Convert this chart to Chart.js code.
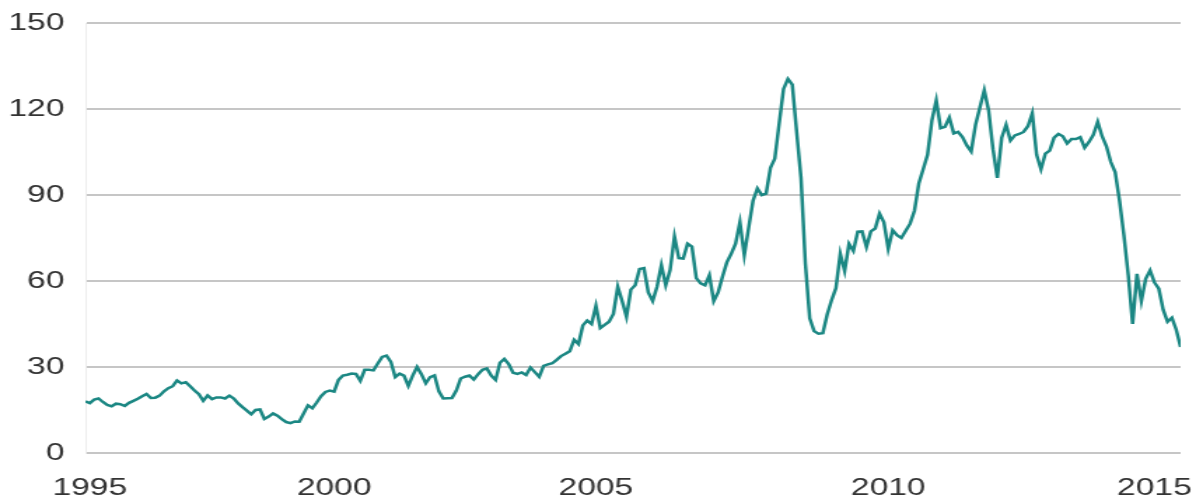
<!DOCTYPE html>
<html><head><meta charset="utf-8">
<script src="https://cdn.jsdelivr.net/npm/chart.js@4.4.1/dist/chart.umd.min.js"></script>
<style>
html,body{margin:0;padding:0;background:#fff;overflow:hidden;}
</style></head><body>
<canvas id="c" width="854" height="499" style="display:block;width:1196px;height:499px;"></canvas>
<script>
// Monthly values, Jan 1995 .. Dec 2015
const p1995 = [18.0, 17.4, 18.6, 19.0, 17.8, 16.8, 16.3, 17.2, 17.0, 16.4, 17.5, 18.2];
const p1996 = [18.9, 19.8, 20.6, 19.2, 19.3, 20.0, 21.5, 22.6, 23.3, 25.3, 24.3, 24.7];
const p1997 = [23.3, 21.8, 20.5, 18.2, 20.1, 18.8, 19.4, 19.4, 19.0, 20.0, 19.0, 17.3];
const p1998 = [16.0, 14.8, 13.5, 15.0, 15.2, 11.9, 12.7, 13.8, 13.0, 11.8, 10.8, 10.4];
const p1999 = [11.0, 10.9, 13.8, 16.6, 15.6, 17.6, 19.8, 21.3, 21.8, 21.4, 25.5, 27.0];
const p2000 = [27.3, 27.7, 27.6, 25.2, 29.0, 29.0, 28.8, 31.2, 33.5, 34.0, 31.8, 26.5];
const p2001 = [27.7, 27.0, 23.4, 27.0, 30.0, 27.5, 24.3, 26.5, 27.1, 21.5, 19.0, 19.1];
const p2002 = [19.2, 21.8, 26.0, 26.6, 27.0, 25.6, 27.5, 29.0, 29.5, 27.0, 25.5, 31.5];
const p2003 = [32.8, 31.0, 28.0, 27.6, 28.1, 27.2, 29.8, 28.2, 26.6, 30.4, 30.9, 31.3];
const p2004 = [32.5, 33.8, 34.6, 35.5, 39.5, 38.0, 44.5, 46.2, 45.0, 51.3, 43.6, 44.7];
const p2005 = [45.8, 48.5, 58.0, 53.0, 47.5, 57.0, 58.5, 64.2, 64.5, 56.0, 53.0, 58.0];
const p2006 = [65.5, 58.5, 63.8, 75.5, 68.0, 67.8, 73.0, 72.0, 61.0, 59.2, 58.5, 62.0];
const p2007 = [53.0, 56.0, 61.5, 66.5, 69.5, 73.0, 80.5, 69.0, 78.5, 88.0, 92.3, 90.0];
const p2008 = [90.5, 99.5, 102.7, 115.0, 127.0, 130.5, 128.5, 112.0, 96.0, 66.0, 47.0, 42.5];
const p2009 = [41.6, 41.8, 48.3, 53.3, 57.5, 69.5, 63.5, 73.0, 70.5, 77.2, 77.3, 71.9];
const p2010 = [77.3, 78.3, 83.5, 80.5, 71.3, 77.7, 76.0, 75.0, 77.5, 80.0, 84.5, 94.0];
const p2011 = [99.0, 104.0, 116.0, 123.0, 113.3, 113.8, 117.0, 111.5, 112.0, 110.2, 107.3, 105.2];
const p2012 = [114.5, 120.5, 126.5, 119.5, 106.0, 96.0, 110.0, 114.5, 109.0, 110.8, 111.3, 112.0];
const p2013 = [114.0, 118.5, 104.0, 99.0, 104.4, 105.5, 110.0, 111.3, 110.5, 108.0, 109.5, 109.5];
const p2014 = [110.2, 106.5, 108.5, 111.0, 115.5, 110.5, 107.0, 101.5, 98.0, 88.0, 76.0, 62.0];
const p2015 = [45.0, 62.5, 53.0, 60.8, 63.7, 59.5, 57.3, 50.0, 45.8, 47.2, 43.0, 37.0];

const series = [].concat(p1995, p1996, p1997, p1998, p1999, p2000, p2001, p2002, p2003,
  p2004, p2005, p2006, p2007, p2008, p2009, p2010, p2011, p2012, p2013, p2014, p2015);
const months = series.map((_, i) => (1995 + Math.floor(i / 12)) + '-' + String(i % 12 + 1).padStart(2, '0'));

const xTickLabels = ['1995', '2000', '2005', '2010', '2015'];
const xTickAt = [1, 57, 117, 184, 245];   // month index under each label, as placed in the reference
const yTicks = [0, 30, 60, 90, 120, 150];

const FONT = { family: "'Liberation Sans', Arial, Helvetica, sans-serif", size: 24 };

new Chart(document.getElementById('c'), {
  type: 'line',
  data: {
    datasets: [{
      label: 'Price',
      data: series.map((v, i) => ({ x: i, y: v, m: months[i] })),
      borderColor: '#1b8783',
      borderWidth: 2.5,
      pointRadius: 0,
      tension: 0,
      fill: false
    }]
  },
  options: {
    responsive: false,
    animation: false,
    devicePixelRatio: 1,
    layout: { padding: { left: 6, right: 11, top: 23, bottom: 0 } },
    plugins: { legend: { display: false }, tooltip: { enabled: false } },
    scales: {
      x: {
        type: 'linear', min: 0, max: series.length - 1,
        grid: { display: false, drawTicks: false },
        border: { display: false },
        afterBuildTicks: s => { s.ticks = xTickAt.map(v => ({ value: v })); },
        afterFit: s => { s.paddingLeft = 0; s.paddingRight = 0; s.height = 46; },
        ticks: {
          autoSkip: false, maxRotation: 0, minRotation: 0, padding: 21,
          color: '#333', font: FONT,
          callback: (v, i) => xTickLabels[i]
        }
      },
      y: {
        min: 0, max: 150,
        afterBuildTicks: s => { s.ticks = yTicks.map(v => ({ value: v })); },
        afterFit: s => { s.paddingTop = 0; s.paddingBottom = 0; s.width = 55; },
        grid: { color: '#c6c6c6', lineWidth: 2, drawTicks: false },
        border: { display: true, color: '#ececec', width: 1 },
        ticks: { padding: 15, color: '#333', font: FONT }
      }
    }
  }
});
</script>
</body></html>
